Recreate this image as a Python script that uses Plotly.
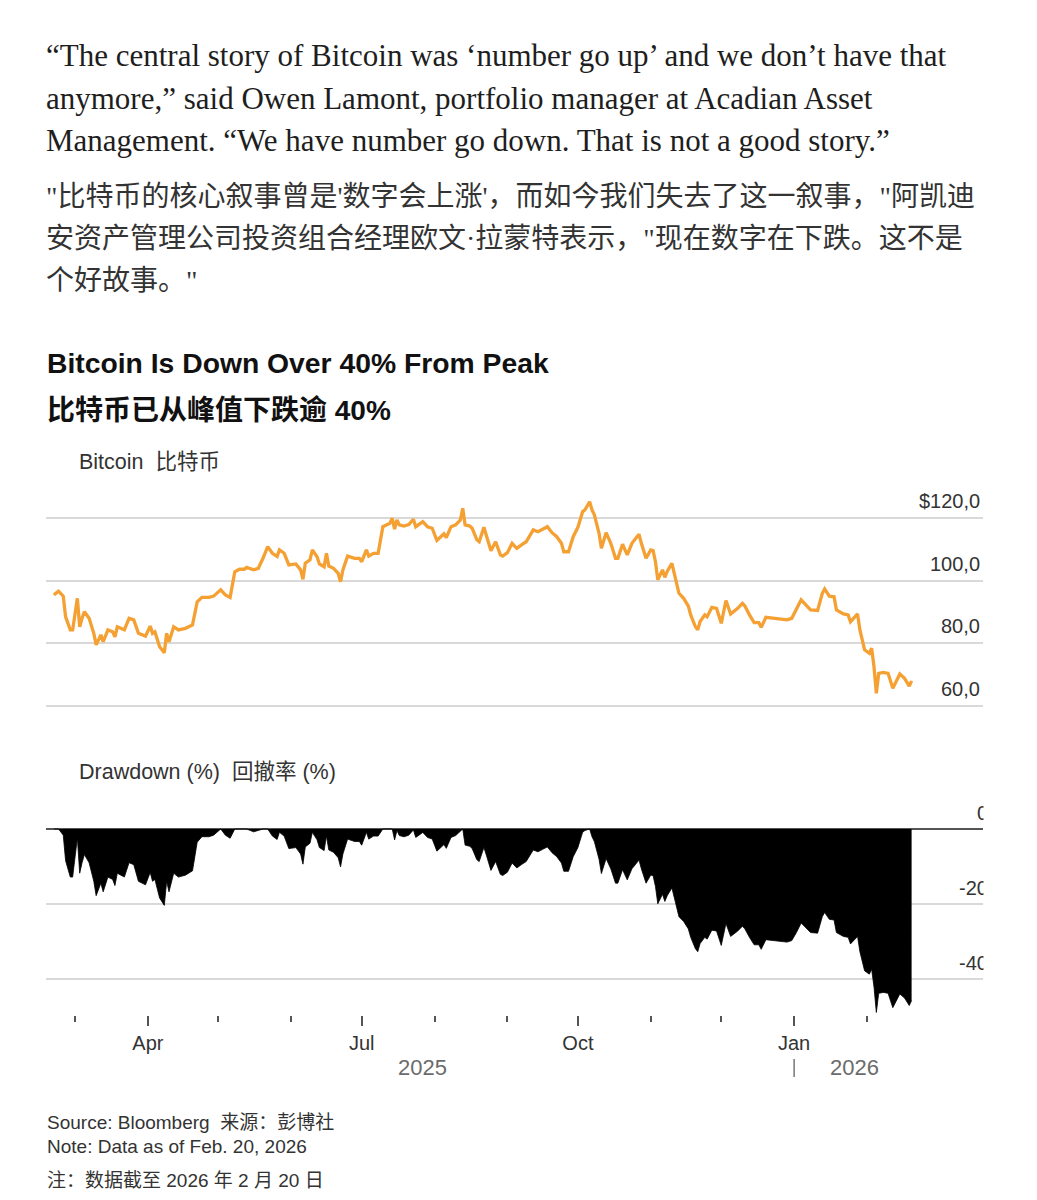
import plotly.graph_objects as go
import pandas as pd
import numpy as np

# ---------------- data ----------------
dates = [
    "2025-02-20", "2025-02-22", "2025-02-24", "2025-02-25", "2025-02-27", "2025-02-28",
    "2025-03-02", "2025-03-03", "2025-03-04", "2025-03-05", "2025-03-07", "2025-03-08",
    "2025-03-09", "2025-03-10", "2025-03-12", "2025-03-13", "2025-03-15", "2025-03-17",
    "2025-03-18", "2025-03-19", "2025-03-22", "2025-03-24", "2025-03-26", "2025-03-28",
    "2025-03-31", "2025-04-02", "2025-04-03", "2025-04-04", "2025-04-05", "2025-04-06",
    "2025-04-08", "2025-04-09", "2025-04-10", "2025-04-12", "2025-04-14", "2025-04-17",
    "2025-04-20", "2025-04-22", "2025-04-24", "2025-04-27", "2025-04-29", "2025-05-02",
    "2025-05-04", "2025-05-06", "2025-05-08", "2025-05-10", "2025-05-12", "2025-05-13",
    "2025-05-16", "2025-05-18", "2025-05-20", "2025-05-22", "2025-05-24", "2025-05-26",
    "2025-05-27", "2025-05-29", "2025-05-31", "2025-06-03", "2025-06-05", "2025-06-06",
    "2025-06-07", "2025-06-09", "2025-06-10", "2025-06-12", "2025-06-13", "2025-06-15",
    "2025-06-16", "2025-06-17", "2025-06-19", "2025-06-21", "2025-06-22", "2025-06-23",
    "2025-06-25", "2025-06-28", "2025-06-30", "2025-07-01", "2025-07-03", "2025-07-04",
    "2025-07-06", "2025-07-08", "2025-07-10", "2025-07-13", "2025-07-14", "2025-07-15",
    "2025-07-16", "2025-07-17", "2025-07-19", "2025-07-21", "2025-07-23", "2025-07-24",
    "2025-07-27", "2025-07-29", "2025-07-31", "2025-08-02", "2025-08-03", "2025-08-05",
    "2025-08-06", "2025-08-08", "2025-08-10", "2025-08-12", "2025-08-13", "2025-08-14",
    "2025-08-16", "2025-08-17", "2025-08-19", "2025-08-20", "2025-08-22", "2025-08-23",
    "2025-08-25", "2025-08-27", "2025-08-29", "2025-08-30", "2025-09-01", "2025-09-03",
    "2025-09-05", "2025-09-07", "2025-09-09", "2025-09-12", "2025-09-14", "2025-09-16",
    "2025-09-18", "2025-09-20", "2025-09-22", "2025-09-24", "2025-09-25", "2025-09-27",
    "2025-09-29", "2025-10-01", "2025-10-03", "2025-10-04", "2025-10-06", "2025-10-07",
    "2025-10-08", "2025-10-10", "2025-10-11", "2025-10-13", "2025-10-15", "2025-10-17",
    "2025-10-18", "2025-10-20", "2025-10-22", "2025-10-24", "2025-10-27", "2025-10-28",
    "2025-10-30", "2025-11-01", "2025-11-02", "2025-11-03", "2025-11-04", "2025-11-06",
    "2025-11-07", "2025-11-08", "2025-11-10", "2025-11-11", "2025-11-13", "2025-11-15",
    "2025-11-17", "2025-11-18", "2025-11-20", "2025-11-21", "2025-11-22", "2025-11-24",
    "2025-11-25", "2025-11-27", "2025-11-29", "2025-12-01", "2025-12-03", "2025-12-05",
    "2025-12-08", "2025-12-10", "2025-12-11", "2025-12-13", "2025-12-15", "2025-12-17",
    "2025-12-18", "2025-12-20", "2025-12-23", "2025-12-26", "2025-12-29", "2025-12-31",
    "2026-01-02", "2026-01-04", "2026-01-06", "2026-01-08", "2026-01-11", "2026-01-13",
    "2026-01-14", "2026-01-16", "2026-01-18", "2026-01-19", "2026-01-22", "2026-01-24",
    "2026-01-25", "2026-01-27", "2026-01-28", "2026-01-29", "2026-01-31", "2026-02-02",
    "2026-02-03", "2026-02-04", "2026-02-05", "2026-02-06", "2026-02-08", "2026-02-10",
    "2026-02-11", "2026-02-12", "2026-02-15", "2026-02-17", "2026-02-19", "2026-02-20",
]

price_k = [
    95.5, 96.7, 95.1, 88.5, 84.3, 84.3,
    94.4, 85.3, 88.0, 90.1, 88.0, 85.9,
    83.2, 79.5, 82.7, 80.5, 84.3, 83.7,
    82.1, 85.3, 84.3, 88.0, 87.5, 83.2,
    82.3, 85.5, 83.2, 83.7, 81.6, 78.9,
    77.0, 83.2, 80.5, 85.3, 84.3, 84.8,
    85.9, 93.3, 94.7, 94.7, 95.1, 97.1,
    95.5, 94.7, 102.9, 103.7, 103.7, 104.3,
    103.5, 104.0, 107.2, 110.9, 108.8, 107.8,
    109.9, 108.8, 105.1, 105.4, 103.5, 100.5,
    105.6, 106.7, 109.9, 107.7, 105.4, 104.5,
    108.8, 104.7, 104.0, 102.4, 99.7, 103.5,
    107.9, 107.2, 107.2, 106.1, 109.9, 107.9,
    108.8, 108.8, 117.3, 118.4, 120.0, 116.5,
    119.5, 117.9, 117.5, 118.0, 119.7, 117.3,
    118.9, 117.3, 116.8, 112.9, 113.6, 115.0,
    113.8, 117.3, 117.9, 119.5, 123.2, 117.9,
    117.5, 116.8, 113.1, 112.5, 117.1, 114.7,
    109.6, 112.5, 108.3, 107.9, 109.0, 112.0,
    110.4, 111.5, 112.5, 116.3, 115.7, 116.5,
    117.3, 115.4, 114.1, 112.0, 109.3, 109.3,
    114.1, 117.1, 122.1, 122.7, 125.3, 122.7,
    121.1, 115.2, 110.4, 115.4, 112.0, 107.2,
    107.2, 111.7, 108.3, 112.0, 114.9, 112.0,
    107.2, 109.9, 109.7, 106.1, 100.3, 103.5,
    101.1, 103.0, 105.6, 102.4, 96.0, 94.4,
    91.9, 89.1, 85.3, 84.3, 87.0, 89.1,
    88.5, 91.5, 91.2, 86.4, 93.7, 89.4,
    91.2, 92.8, 92.0, 89.1, 86.6, 86.6,
    85.1, 88.3, 88.0, 87.7, 87.5, 88.0,
    90.7, 93.9, 92.3, 90.7, 90.5, 96.0,
    97.4, 95.1, 94.9, 90.7, 89.4, 89.1,
    86.9, 88.7, 89.4, 84.3, 77.9, 76.8,
    78.4, 72.5, 64.0, 70.4, 70.7, 70.4,
    68.3, 65.6, 70.2, 68.8, 66.3, 68.0,
]

price_ticks = [60, 80, 100, 120]
price_tick_labels = ["60,0", "80,0", "100,0", "$120,0"]
dd_ticks = [0, -20, -40]
dd_tick_labels = ["0", "-20", "-40"]
quarter_ticks = ["2025-04-01", "2025-07-01", "2025-10-01", "2026-01-01"]
quarter_labels = ["Apr", "Jul", "Oct", "Jan"]
month_ticks = ["2025-03-01", "2025-04-01", "2025-05-01", "2025-06-01", "2025-07-01",
               "2025-08-01", "2025-09-01", "2025-10-01", "2025-11-01", "2025-12-01",
               "2026-01-01", "2026-02-01"]
year_labels = ["2025", "2026"]

# drawdown from running peak of the price series
p = np.array(price_k)
drawdown = (p / np.maximum.accumulate(p) - 1.0) * 100.0

# ---------------- layout helpers ----------------
W, H = 1037, 1200
def fx(px):
    return px / W
def fy(px):
    return 1 - px / H

SANS = "Liberation Sans, Arial, Noto Sans CJK SC, sans-serif"
SERIF = "Liberation Serif, Times New Roman, Noto Sans CJK SC, serif"
ORANGE = "#F5A033"
GRID = "#d9d9d9"

t0 = pd.Timestamp("2025-03-01")
px_per_day = 2.35
x_left = t0 + pd.Timedelta(days=(46 - 75) / px_per_day)
x_right = t0 + pd.Timedelta(days=(983 - 75) / px_per_day)

fig = go.Figure()
fig.add_trace(go.Scatter(
    x=dates, y=price_k, mode="lines",
    line=dict(color=ORANGE, width=3.3), xaxis="x", yaxis="y",
    hoverinfo="skip", showlegend=False,
))
fig.add_trace(go.Scatter(
    x=dates, y=drawdown, mode="lines", fill="tozeroy",
    fillcolor="#000000", line=dict(color="#000000", width=0.8),
    xaxis="x2", yaxis="y2", hoverinfo="skip", showlegend=False,
))

xdom = [fx(46), fx(983)]
fig.update_layout(
    width=W, height=H,
    margin=dict(l=0, r=0, t=0, b=0),
    paper_bgcolor="white", plot_bgcolor="white",
    showlegend=False,
    xaxis=dict(domain=xdom, range=[x_left, x_right], type="date",
               showgrid=False, showticklabels=False, zeroline=False,
               showline=False, ticks=""),
    yaxis=dict(domain=[fy(707.4), fy(496.4)], range=[59.5, 127],
               tickvals=price_ticks, showticklabels=False, showgrid=True,
               gridcolor=GRID, gridwidth=1.5, zeroline=False, showline=False),
    xaxis2=dict(domain=xdom, range=[x_left, x_right], type="date",
                anchor="y2", showgrid=False, zeroline=False, showline=False,
                tickvals=quarter_ticks, ticktext=quarter_labels,
                ticks="outside", ticklen=10, tickwidth=1.5, tickcolor="#555",
                tickfont=dict(family=SANS, size=20, color="#333"),
                minor=dict(tickvals=month_ticks, ticks="outside", ticklen=6,
                           tickwidth=1.5, tickcolor="#555", showgrid=False)),
    yaxis2=dict(domain=[fy(1015), fy(827.1)], range=[-49.6, 0.5], anchor="x2",
                tickvals=[-20, -40], showticklabels=False, showgrid=True,
                gridcolor=GRID, gridwidth=1.5, zeroline=True,
                zerolinecolor="#555", zerolinewidth=1.5, showline=False),
)

ann = []
def text(x, y, s, size, color="#333", family=SANS, weight="normal",
         xanchor="left", yanchor="middle"):
    ann.append(dict(x=fx(x), y=fy(y), xref="paper", yref="paper", text=s,
                    showarrow=False, xanchor=xanchor, yanchor=yanchor,
                    font=dict(size=size, color=color, family=family, weight=weight)))

# quote (English)
quote_en = [
    "“The central story of Bitcoin was ‘number go up’ and we don’t have that",
    "anymore,” said Owen Lamont, portfolio manager at Acadian Asset",
    "Management. “We have number go down. That is not a good story.”",
]
for i, line in enumerate(quote_en):
    text(44, 56 + i * 42.5, line, 31, "#1e1e1e", SERIF)

quote_cn = [
    "\"比特币的核心叙事曾是'数字会上涨'，而如今我们失去了这一叙事，\"阿凯迪",
    "安资产管理公司投资组合经理欧文·拉蒙特表示，\"现在数字在下跌。这不是",
    "个好故事。\"",
]
for i, line in enumerate(quote_cn):
    text(44, 196 + i * 42, line, 28, "#333", SERIF)

text(45, 363, "Bitcoin Is Down Over 40% From Peak", 28.3, "#111", SANS, "bold")
text(45, 410, "比特币已从峰值下跌逾 40%", 28, "#111", SANS, "bold")
text(77, 462, "Bitcoin  比特币", 21.5, "#333")
text(77, 772, "Drawdown (%)  回撤率 (%)", 21.5, "#333")

# price axis labels (right, above gridlines)
for v, lab in zip(price_ticks, price_tick_labels):
    ann.append(dict(x=fx(982), y=v, xref="paper", yref="y", text=lab,
                    showarrow=False, xanchor="right", yanchor="bottom", yshift=4,
                    font=dict(size=20, color="#333", family=SANS)))
# drawdown axis labels
for v, lab in zip(dd_ticks, dd_tick_labels):
    ann.append(dict(x=fx(990), y=v, xref="paper", yref="y2", text=lab,
                    showarrow=False, xanchor="right", yanchor="bottom", yshift=3,
                    font=dict(size=20, color="#333", family=SANS)))
# white cover clipping the drawdown labels at the chart's right edge
ann.append(dict(x=fx(983), y=fy(790), xref="paper", yref="paper", text=" ",
                showarrow=False, xanchor="left", yanchor="top",
                width=60, height=220, bgcolor="white", borderpad=0,
                font=dict(size=10)))

# year labels centred on each year's part of the data
d_ts = pd.to_datetime(pd.Series(dates))
for yr in year_labels:
    sel = d_ts[d_ts.dt.year == int(yr)]
    mid = sel.min() + (sel.max() - sel.min()) / 2
    ann.append(dict(x=mid, y=fy(1067), xref="x2", yref="paper", text=yr,
                    showarrow=False, xanchor="center", yanchor="middle",
                    font=dict(size=22, color="#6b6b6b", family=SANS)))

text(45, 1122, "Source: Bloomberg  来源：彭博社", 19, "#333")
text(45, 1146, "Note: Data as of Feb. 20, 2026", 19, "#333")
text(45, 1180, "注：数据截至 2026 年 2 月 20 日", 19, "#333")

fig.update_layout(annotations=ann)

# year separator
fig.add_shape(type="line", xref="x2", yref="paper",
              x0="2026-01-01", x1="2026-01-01", y0=fy(1059), y1=fy(1077),
              line=dict(color="#555", width=1.2))

fig.write_html("out.html")
